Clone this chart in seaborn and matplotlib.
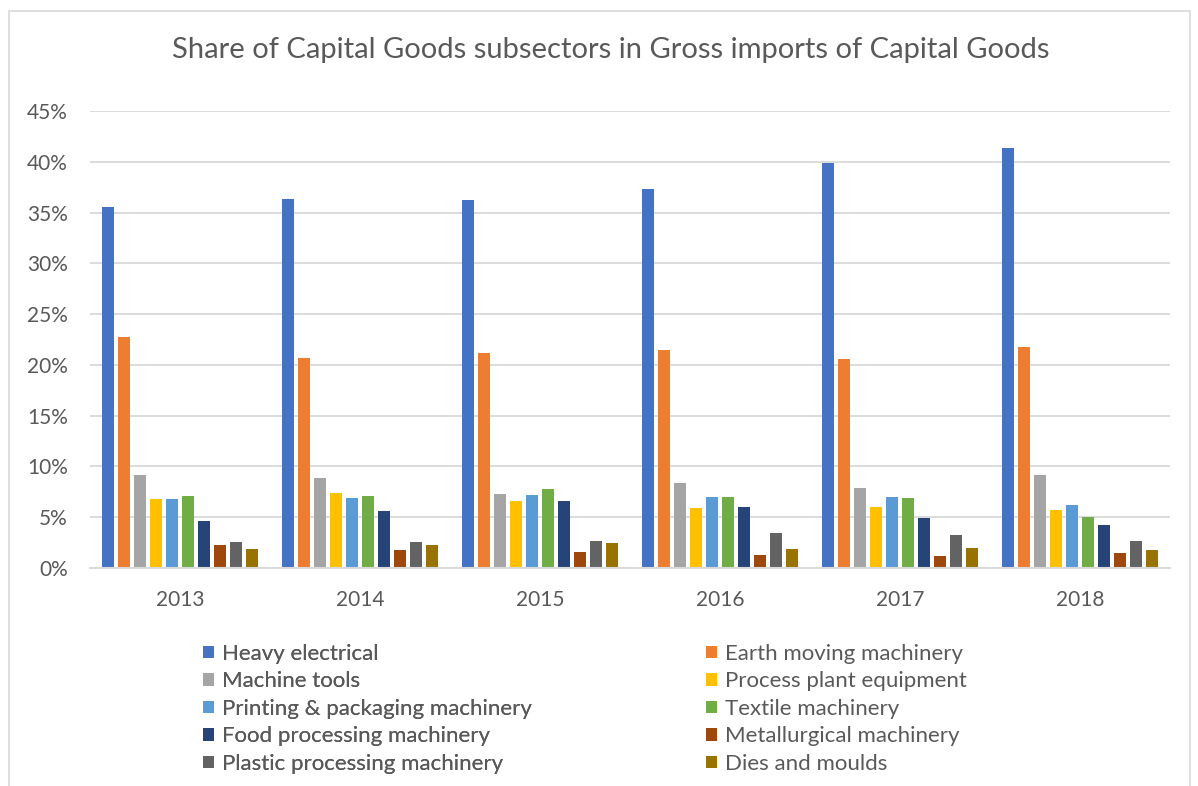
import matplotlib
matplotlib.use("Agg")
import matplotlib.pyplot as plt
import seaborn as sns
import pandas as pd
from matplotlib.patches import Patch, Rectangle
from matplotlib.ticker import MultipleLocator, FuncFormatter

years = ["2013", "2014", "2015", "2016", "2017", "2018"]
subsectors = [
    "Heavy electrical", "Earth moving machinery", "Machine tools",
    "Process plant equipment", "Printing & packaging machinery",
    "Textile machinery", "Food processing machinery",
    "Metallurgical machinery", "Plastic processing machinery",
    "Dies and moulds",
]
heavy_electrical = [35.5, 36.3, 36.25, 37.35, 39.9, 41.4]
earth_moving = [22.7, 20.7, 21.2, 21.45, 20.6, 21.8]
machine_tools = [9.2, 8.9, 7.3, 8.4, 7.9, 9.2]
process_plant = [6.8, 7.35, 6.6, 5.9, 6.05, 5.75]
printing_packaging = [6.75, 6.85, 7.15, 7.0, 7.0, 6.25]
textile = [7.1, 7.1, 7.75, 7.0, 6.85, 5.05]
food_processing = [4.65, 5.65, 6.6, 6.0, 4.95, 4.27]
metallurgical = [2.3, 1.8, 1.58, 1.28, 1.21, 1.51]
plastic_processing = [2.56, 2.56, 2.62, 3.48, 3.22, 2.63]
dies_moulds = [1.87, 2.27, 2.42, 1.9, 2.0, 1.81]

series = [heavy_electrical, earth_moving, machine_tools, process_plant,
          printing_packaging, textile, food_processing, metallurgical,
          plastic_processing, dies_moulds]
colors = ["#4472C4", "#ED7D31", "#A5A5A5", "#FFC000", "#5B9BD5",
          "#70AD47", "#264478", "#9E480E", "#636363", "#997300"]

rows = []
for name, vals in zip(subsectors, series):
    for y, v in zip(years, vals):
        rows.append({"year": y, "share": v, "subsector": name})
df = pd.DataFrame(rows)

sns.set_theme(style="white")
plt.rcParams["font.family"] = ["Lato", "DejaVu Sans"]
text_color = "#595959"

fig = plt.figure(figsize=(11.98, 7.86), dpi=100)
W, H = 1198, 786
ax = fig.add_axes([90 / W, 1 - 568 / H, (1170 - 90) / W, (568 - 111) / H])

sns.barplot(data=df, x="year", y="share", hue="subsector",
            hue_order=subsectors, order=years, palette=colors,
            width=0.89, ax=ax, legend=False, saturation=1)

for p in ax.patches:
    w = p.get_width()
    nw = w * 0.76
    p.set_x(p.get_x() + (w - nw) / 2)
    p.set_width(nw)
    p.set_edgecolor("none")

ax.set_ylim(0, 45)
ax.yaxis.set_major_locator(MultipleLocator(5))
ax.yaxis.set_major_formatter(FuncFormatter(lambda v, pos: f"{v:.0f}%"))
ax.grid(axis="y", color="#D9D9D9", linewidth=1.3)
ax.set_axisbelow(True)
for s in ["top", "right", "left"]:
    ax.spines[s].set_visible(False)
ax.spines["bottom"].set_color("#D9D9D9")
ax.spines["bottom"].set_linewidth(1.5)
ax.tick_params(axis="y", length=0, pad=16, labelsize=15, labelcolor=text_color)
ax.tick_params(axis="x", length=0, pad=16, labelsize=15, labelcolor=text_color)
ax.set_xlabel("")
ax.set_ylabel("")

fig.text(611 / W, 1 - 50 / H, "Share of Capital Goods subsectors in Gross imports of Capital Goods",
         ha="center", va="center", fontsize=21, color=text_color)

# chart border
fig.patches.append(Rectangle((9 / W, -0.01), (1190 - 9) / W, 1.01 - 11 / H,
                             transform=fig.transFigure, fill=False,
                             edgecolor="#D9D9D9", linewidth=1.2))

handles = [Patch(facecolor=c, edgecolor="none") for c in colors]
left_idx = [0, 2, 4, 6, 8]
right_idx = [1, 3, 5, 7, 9]
leg_kw = dict(frameon=False, fontsize=16, labelcolor=text_color,
              handlelength=0.5, handleheight=0.5, handletextpad=0.36,
              labelspacing=0.335, borderpad=0, borderaxespad=0, loc="upper left")
leg1 = fig.legend([handles[i] for i in left_idx], [subsectors[i] for i in left_idx],
                  bbox_to_anchor=(203 / W, 1 - 644 / H), **leg_kw)
fig.add_artist(leg1)
leg2 = fig.legend([handles[i] for i in right_idx], [subsectors[i] for i in right_idx],
                  bbox_to_anchor=(706 / W, 1 - 644 / H), **leg_kw)

fig.savefig("out.png", dpi=100, facecolor="white")
